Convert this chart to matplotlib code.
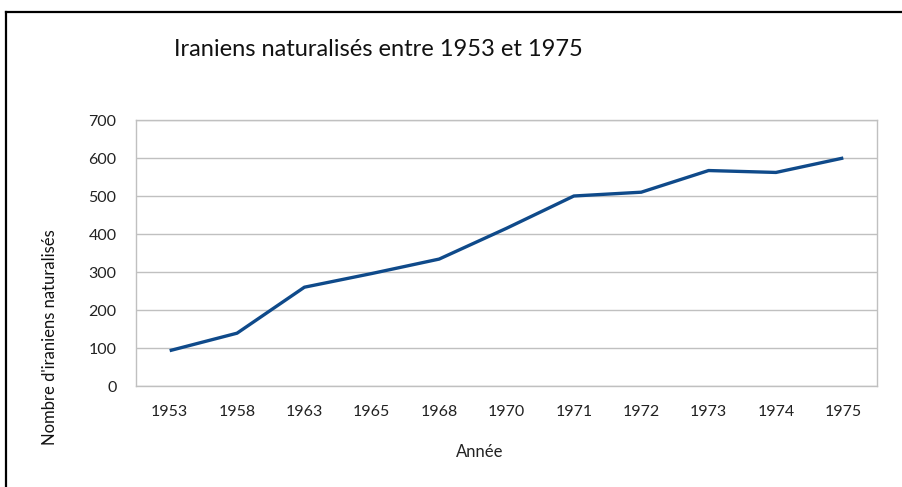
import matplotlib
matplotlib.use("Agg")
import matplotlib.pyplot as plt
from matplotlib.lines import Line2D

plt.rcParams.update({"font.family": ["Lato", "DejaVu Sans"]})

# Data
years = ["1953", "1958", "1963", "1965", "1968", "1970",
         "1971", "1972", "1973", "1974", "1975"]
naturalises = [93, 139, 260, 296, 334, 415, 500, 510, 567, 562, 600]
y_ticks = [0, 100, 200, 300, 400, 500, 600, 700]

W, H = 902, 487
fig = plt.figure(figsize=(W / 100, H / 100), dpi=100)
ax = fig.add_axes([136 / W, 1 - 386 / H, (877 - 136) / W, (386 - 120) / H])

x = list(range(len(years)))
ax.plot(x, naturalises, color="#0F4A8A", linewidth=2.4, solid_capstyle="butt")

ax.set_xlim(-0.5, len(years) - 0.5)
ax.set_ylim(0, 700)
ax.set_yticks(y_ticks)
ax.set_xticks(x)
ax.set_xticklabels(years)
ax.grid(axis="y", color="#C0C0C0", linewidth=1.0)
ax.set_axisbelow(True)
for s in ax.spines.values():
    s.set_color("#C0C0C0")
    s.set_linewidth(1.0)
ax.tick_params(length=0, labelsize=11.5, colors="#222222")
ax.tick_params(axis="x", pad=14)
ax.tick_params(axis="y", pad=14)

fig.text(378 / W, 1 - 50 / H, "Iraniens naturalisés entre 1953 et 1975",
         ha="center", va="center", fontsize=17, color="#111111")
fig.text(480 / W, 1 - 452 / H, "Année", ha="center", va="center",
         fontsize=12, color="#222222")
fig.text(50 / W, 1 - 337 / H, "Nombre d'iraniens naturalisés", rotation=90,
         ha="center", va="center", fontsize=12, color="#111111")

# outer chart frame (top and left edges visible)
fig.add_artist(Line2D([6 / W, 6 / W], [0, 1 - 12 / H], color="black",
                      linewidth=1.6, transform=fig.transFigure))
fig.add_artist(Line2D([6 / W, 1], [1 - 12 / H, 1 - 12 / H], color="black",
                      linewidth=1.6, transform=fig.transFigure))

fig.savefig("out.png", dpi=100)
